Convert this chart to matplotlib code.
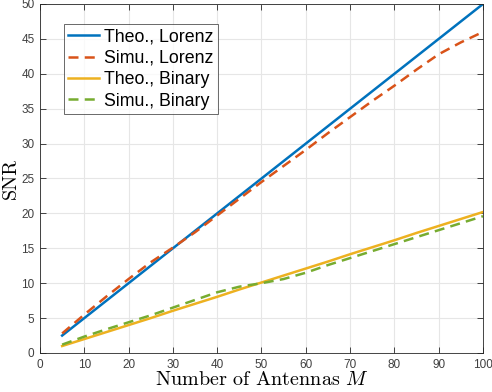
import matplotlib
matplotlib.use("Agg")
import matplotlib.pyplot as plt

# antenna counts
M = [5, 10, 15, 20, 25, 30, 35, 40, 45, 50, 55, 60, 65, 70, 75, 80, 85, 90, 95, 100]

theo_lorenz = [2.5, 5.0, 7.5, 10.0, 12.5, 15.0, 17.5, 20.0, 22.5, 25.0,
               27.5, 30.0, 32.5, 35.0, 37.5, 40.0, 42.5, 45.0, 47.5, 50.0]
simu_lorenz = [2.8, 5.5, 8.1, 10.6, 13.0, 15.1, 17.3, 19.7, 22.1, 24.5,
               26.8, 29.1, 31.5, 33.8, 36.1, 38.3, 40.6, 42.8, 44.5, 46.0]
theo_binary = [1.0, 2.0, 3.0, 4.0, 5.0, 6.05, 7.05, 8.05, 9.1, 10.1,
               11.1, 12.1, 13.1, 14.15, 15.15, 16.15, 17.2, 18.2, 19.2, 20.2]
simu_binary = [1.2, 2.35, 3.4, 4.4, 5.4, 6.5, 7.6, 8.7, 9.5, 10.0,
               10.6, 11.5, 12.6, 13.6, 14.6, 15.6, 16.6, 17.6, 18.6, 19.6]

plt.rcParams['mathtext.fontset'] = 'cm'

fig = plt.figure(figsize=(4.92, 3.92), dpi=100)
ax = fig.add_axes([0.0813, 0.0995, 0.9004, 0.8903])

ax.plot(M, theo_lorenz, color='#0072BD', lw=1.8, label='Theo., Lorenz')
ax.plot(M, simu_lorenz, color='#D95319', lw=1.8, ls=(0, (4, 2.5)), label='Simu., Lorenz')
ax.plot(M, theo_binary, color='#EDB120', lw=1.8, label='Theo., Binary')
ax.plot(M, simu_binary, color='#77AC30', lw=1.8, ls=(0, (4, 2.5)), label='Simu., Binary')

ax.set_xlim(0, 100)
ax.set_ylim(0, 50)
ax.set_xticks(range(0, 101, 10))
ax.set_yticks(range(0, 51, 5))
ax.grid(True, color='#e6e6e6', lw=0.8)
ax.set_axisbelow(True)
ax.tick_params(direction='in', top=True, right=True, length=4, width=0.6,
               labelsize=8.5, colors='#262626', pad=4)
for lab in ax.get_xticklabels() + ax.get_yticklabels():
    lab.set_family('Liberation Sans')
    lab.set_color('#404040')
for s in ax.spines.values():
    s.set_color('#262626')
    s.set_linewidth(0.6)

ax.set_xlabel('Number of Antennas $M$', family='cmr10', fontsize=14.5, labelpad=0)
ax.set_ylabel('SNR', family='cmr10', fontsize=14.5, labelpad=1)

leg = ax.legend(loc='upper left', bbox_to_anchor=(0.054, 0.943), fancybox=False,
                edgecolor='#262626', prop={'family': 'Liberation Sans', 'size': 12.8},
                handlelength=1.7, borderpad=0.25, labelspacing=0.25, handletextpad=0.3,
                borderaxespad=0)
leg.get_frame().set_linewidth(0.6)

fig.savefig('out.png', dpi=100)
